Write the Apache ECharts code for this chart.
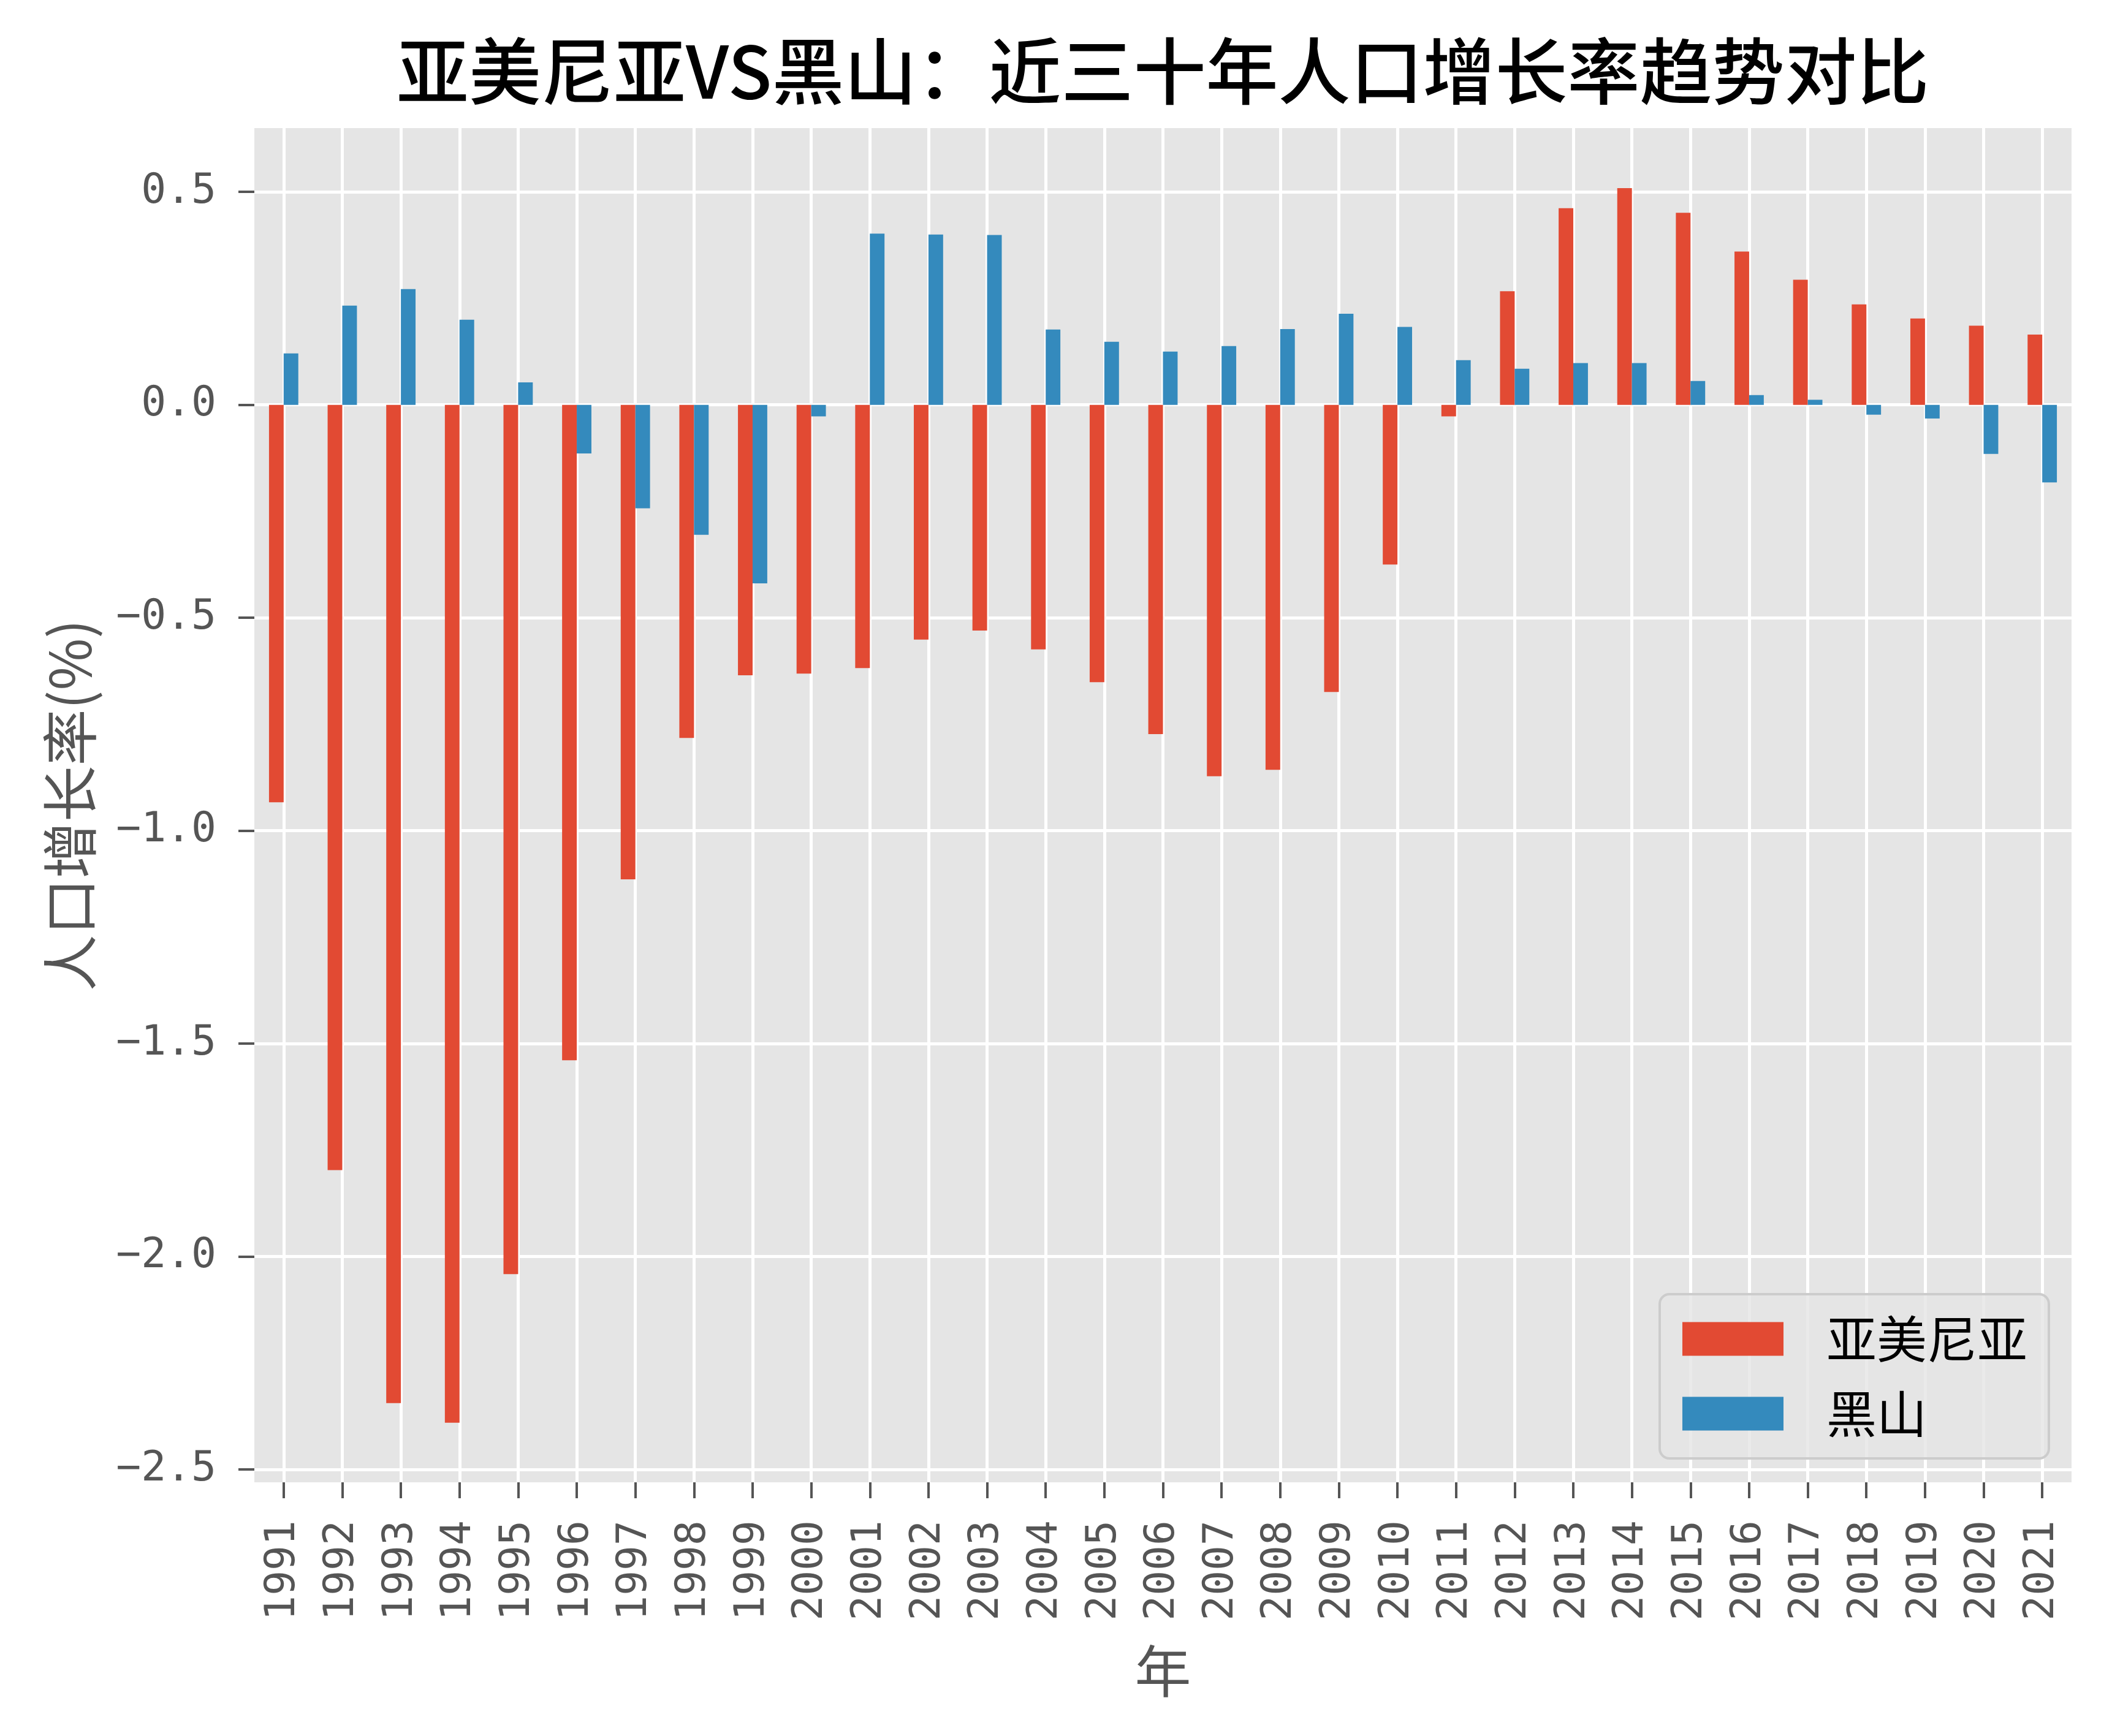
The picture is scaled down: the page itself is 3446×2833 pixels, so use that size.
<!DOCTYPE html>
<html><head><meta charset="utf-8">
<script src="https://cdn.jsdelivr.net/npm/echarts@6/dist/echarts.min.js"></script>
<style>html,body{margin:0;padding:0;background:#fff}#c{width:3446px;height:2833px}</style>
</head><body><div id="c"></div>
<script>
const years = ['1991','1992','1993','1994','1995','1996','1997','1998','1999','2000','2001','2002','2003','2004','2005','2006','2007','2008','2009','2010','2011','2012','2013','2014','2015','2016','2017','2018','2019','2020','2021'];
const armenia = [-0.933,-1.797,-2.344,-2.390,-2.041,-1.539,-1.114,-0.782,-0.635,-0.631,-0.618,-0.551,-0.530,-0.574,-0.651,-0.773,-0.872,-0.857,-0.674,-0.375,-0.027,0.267,0.462,0.509,0.451,0.360,0.294,0.236,0.203,0.186,0.165];
const montenegro = [0.121,0.233,0.272,0.200,0.053,-0.114,-0.243,-0.305,-0.419,-0.027,0.402,0.400,0.399,0.177,0.148,0.125,0.138,0.178,0.214,0.183,0.105,0.085,0.098,0.098,0.056,0.023,0.012,-0.023,-0.032,-0.115,-0.182];
const yTicks = [-2.5,-2.0,-1.5,-1.0,-0.5,0.0,0.5];
const seriesNames = ['亚美尼亚','黑山'];
const titleText = '亚美尼亚VS黑山：近三十年人口增长率趋势对比';
const xName = '年';
const yName = '人口增长率(%)';

// half-step positions so vertical grid lines sit on category centres
const halfSteps = [''];
years.forEach(y => { halfSteps.push(y); halfSteps.push(''); });

const CJK = '"Noto Sans CJK SC", "Noto Sans", sans-serif';
const MONO = '"DejaVu Sans Mono", monospace';
const fmt = v => (v < 0 ? '\u2212' : '') + Math.abs(v).toFixed(1);

const chart = echarts.init(document.getElementById('c'), null, {renderer: 'canvas'});
chart.setOption({
  animation: false,
  backgroundColor: '#ffffff',
  title: {
    text: titleText, left: 642, top: 52,
    textStyle: {fontFamily: CJK, fontSize: 118, fontWeight: 500, color: '#000'}
  },
  legend: {
    data: seriesNames, orient: 'vertical', right: 103, bottom: 453,
    itemWidth: 165, itemHeight: 55, itemGap: 40, icon: 'rect',
    padding: [32, 35, 32, 37],
    backgroundColor: 'rgba(229,229,229,0.8)', borderColor: '#cccccc', borderWidth: 4, borderRadius: 16,
    textStyle: {fontFamily: CJK, fontSize: 82, color: '#000', lineHeight: 55, padding: [0, 0, 0, 65]}
  },
  grid: {left: 415, right: 66, top: 209, bottom: 414, containLabel: false,
         show: true, backgroundColor: '#E5E5E5', borderWidth: 0},
  xAxis: [{
    type: 'category', data: years, boundaryGap: true,
    name: xName, nameLocation: 'middle', nameGap: 262,
    nameTextStyle: {fontFamily: CJK, fontSize: 92, color: '#555555'},
    axisLine: {show: false, onZero: false},
    axisTick: {show: true, alignWithLabel: true, length: 26, lineStyle: {color: '#555555', width: 4}},
    axisLabel: {interval: 0, rotate: 90, margin: 62, fontFamily: MONO, fontSize: 68, color: '#555555'},
    splitLine: {show: false}
  }, {
    type: 'category', data: halfSteps, boundaryGap: false, position: 'bottom',
    axisLine: {show: false, onZero: false}, axisTick: {show: false}, axisLabel: {show: false},
    splitLine: {show: true, interval: (i) => i % 2 === 1, lineStyle: {color: '#ffffff', width: 5}}
  }],
  yAxis: {
    type: 'value', min: -2.53, max: 0.65,
    name: yName, nameLocation: 'middle', nameGap: 255,
    nameTextStyle: {fontFamily: CJK, fontSize: 92, color: '#555555'},
    axisLine: {show: false},
    axisTick: {show: true, length: 26, customValues: yTicks, lineStyle: {color: '#555555', width: 4}},
    axisLabel: {customValues: yTicks, margin: 62, fontFamily: MONO, fontSize: 68, color: '#555555', formatter: fmt},
    splitLine: {show: true, lineStyle: {color: '#ffffff', width: 5}}
  },
  series: [
    {name: seriesNames[0], type: 'bar', data: armenia, barWidth: '25%', barGap: '0%', itemStyle: {color: '#E24A33'}},
    {name: seriesNames[1], type: 'bar', data: montenegro, barWidth: '25%', barGap: '0%', itemStyle: {color: '#348ABD'}}
  ]
});
</script></body></html>
